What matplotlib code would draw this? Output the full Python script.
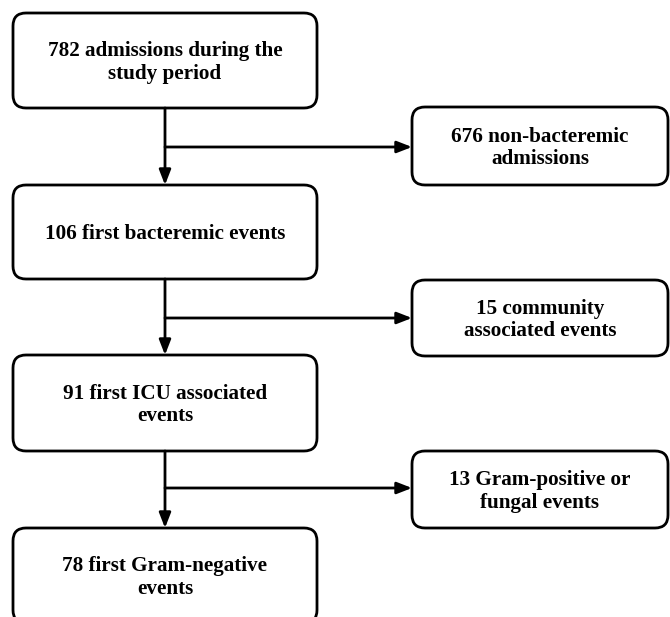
import matplotlib.pyplot as plt
from matplotlib.patches import FancyBboxPatch

# flow chart texts
main_steps = ["782 admissions during the\nstudy period",
              "106 first bacteremic events",
              "91 first ICU associated\nevents",
              "78 first Gram-negative\nevents"]
excluded = ["676 non-bacteremic\nadmissions",
            "15 community\nassociated events",
            "13 Gram-positive or\nfungal events"]

# box geometry in pixel coords (y down)
main_tops = [13, 185, 355, 528]
main_bottoms = [108, 279, 451, 623]
main_x = (13, 317)
side_tops = [107, 280, 451]
side_bottoms = [185, 356, 528]
side_x = (412, 668)
branch_y = [147, 318, 488]

plt.rcParams['font.family'] = ['Liberation Serif', 'DejaVu Serif']
fig = plt.figure(figsize=(6.7, 6.17), dpi=100)
ax = fig.add_axes([0, 0, 1, 1])
ax.set_xlim(0, 670)
ax.set_ylim(617, 0)
ax.axis('off')

lw = 2.0


def box(x0, x1, y0, y1, text):
    p = FancyBboxPatch((x0, y0), x1 - x0, y1 - y0,
                       boxstyle="round,pad=0,rounding_size=13",
                       fc='white', ec='black', lw=lw)
    ax.add_patch(p)
    ax.text((x0 + x1) / 2, (y0 + y1) / 2 + 2, text, ha='center', va='center',
            fontsize=15.2, fontweight='bold', linespacing=1.18)


for t, y0, y1 in zip(main_steps, main_tops, main_bottoms):
    box(main_x[0], main_x[1], y0, y1, t)
for t, y0, y1 in zip(excluded, side_tops, side_bottoms):
    box(side_x[0], side_x[1], y0, y1, t)

cx = (main_x[0] + main_x[1]) / 2
arrow = dict(arrowstyle='-|>,head_length=0.9,head_width=0.35', color='black',
             lw=lw, shrinkA=0, shrinkB=0)
for i in range(3):
    ax.annotate('', xy=(cx, main_tops[i + 1]), xytext=(cx, main_bottoms[i]),
                arrowprops=arrow)
    ax.annotate('', xy=(side_x[0], branch_y[i]), xytext=(cx, branch_y[i]),
                arrowprops=arrow)

fig.savefig('out.png', dpi=100, facecolor='white')
